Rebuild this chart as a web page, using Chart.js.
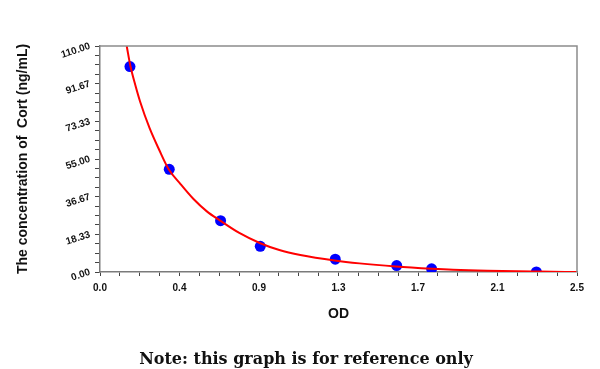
<!doctype html>
<html lang="en">
  <head>
    <meta charset="utf-8">
    <title>Cort standard curve</title>
    <style>
      * {
        margin: 0;
        padding: 0;
      }
      body {
        background: white;
      }
      .chartBox {
        position: relative;
        width: 600px;
        height: 369px;
      }
      .note {
        position: absolute;
        left: 0;
        width: 612px;
        top: 349px;
        text-align: center;
        font-family: "DejaVu Serif", serif;
        font-weight: bold;
        font-size: 16px;
        color: #111;
      }
    </style>
  </head>
  <body>
    <div class="chartBox">
      <canvas id="myChart" width="600" height="369"></canvas>
      <div class="note">Note: this graph is for reference only</div>
    </div>
    <script src="https://cdn.jsdelivr.net/npm/chart.js"></script>
    <script>
    // standard points (OD vs concentration)
    const odValues = [0.157, 0.363, 0.632, 0.840, 1.233, 1.555, 1.738, 2.287];
    const concValues = [100, 50, 25, 12.5, 6.25, 3.125, 1.5625, 0];

    // fitted curve
    const curveOD = [0.14, 0.16, 0.185, 0.21, 0.26, 0.31, 0.36, 0.42, 0.49, 0.56, 0.63, 0.73, 0.84, 0.94, 1.05, 1.23, 1.36, 1.55, 1.74, 1.85, 2.03, 2.3, 2.5];
    const curveConc = [110, 100, 91, 83, 70, 59.5, 50, 43, 35.5, 29.5, 25, 19, 14, 10.7, 8.3, 5.6, 4.2, 2.7, 1.6, 1.1, 0.6, 0.2, 0];

    const xTickLabels = ['0.0', '0.4', '0.9', '1.3', '1.7', '2.1', '2.5'];
    const yTickLabels = ['0.00', '18.33', '36.67', '55.00', '73.33', '91.67', '110.00'];
    const xMax = 2.5;
    const yMax = 110;
    const minorPerMajor = 4;

    function tickValues(max, labels){
      const n = (labels.length - 1) * minorPerMajor;
      const vals = [];
      for (let i = 0; i <= n; i++) vals.push(max * i / n);
      return vals;
    }

    const frame = {
      id: 'frame',
      afterDraw(chart){
        const {ctx, chartArea} = chart;
        ctx.save();
        ctx.strokeStyle = '#8c8c8c';
        ctx.lineWidth = 1.5;
        ctx.beginPath();
        ctx.moveTo(chartArea.left, chartArea.top);
        ctx.lineTo(chartArea.right, chartArea.top);
        ctx.lineTo(chartArea.right, chartArea.bottom);
        ctx.stroke();
        ctx.restore();
      }
    };

    const tickFont = {family: 'Liberation Sans, Arial, sans-serif', size: 10, weight: 'bold'};

    const config = {
      type: 'scatter',
      data: {
        datasets: [{
          label: 'curve',
          data: curveOD.map((x, i) => ({x: x, y: curveConc[i]})),
          showLine: true,
          borderColor: '#ff0000',
          borderWidth: 2,
          pointRadius: 0,
          cubicInterpolationMode: 'monotone'
        }, {
          label: 'standards',
          data: odValues.map((x, i) => ({x: x, y: concValues[i]})),
          backgroundColor: '#0000ff',
          borderColor: '#0000ff',
          pointRadius: 5.5,
          pointBorderWidth: 0
        }]
      },
      options: {
        responsive: false,
        animation: false,
        layout: {
          padding: {left: 0, right: 23, top: 46, bottom: 39}
        },
        plugins: {
          legend: {display: false},
          tooltip: {enabled: false}
        },
        scales: {
          x: {
            type: 'linear',
            min: 0,
            max: xMax,
            afterBuildTicks: (scale) => {
              scale.ticks = tickValues(xMax, xTickLabels).map(v => ({value: v}));
            },
            afterFit: (scale) => { scale.height = 58; },
            ticks: {
              autoSkip: false,
              maxRotation: 0,
              padding: 6,
              color: '#111',
              font: tickFont,
              callback: (v, i) => i % minorPerMajor === 0 ? xTickLabels[i / minorPerMajor] : ''
            },
            grid: {
              drawOnChartArea: false,
              tickLength: 4,
              tickColor: '#444',
              tickWidth: 1
            },
            border: {color: '#7a7a7a', width: 1.5},
            title: {
              display: true,
              text: 'OD',
              color: '#111',
              font: {family: 'Liberation Sans, Arial, sans-serif', size: 14, weight: 'bold'},
              padding: {top: 0, bottom: 7}
            }
          },
          y: {
            type: 'linear',
            min: 0,
            max: yMax,
            afterBuildTicks: (scale) => {
              scale.ticks = tickValues(yMax, yTickLabels).map(v => ({value: v}));
            },
            afterFit: (scale) => { scale.width = 100; },
            ticks: {
              autoSkip: false,
              minRotation: 18,
              maxRotation: 18,
              padding: 5,
              color: '#111',
              font: tickFont,
              callback: (v, i) => i % minorPerMajor === 0 ? yTickLabels[i / minorPerMajor] : ''
            },
            grid: {
              drawOnChartArea: false,
              tickLength: 5,
              tickColor: '#444',
              tickWidth: 1
            },
            border: {color: '#7a7a7a', width: 1.5},
            title: {
              display: true,
              text: 'The concentration of  Cort (ng/mL)',
              color: '#111',
              font: {family: 'Liberation Sans, Arial, sans-serif', size: 14, weight: 'bold'},
              padding: {top: 15, bottom: 0}
            }
          }
        }
      },
      plugins: [frame]
    };

    new Chart(document.getElementById('myChart'), config);
    </script>
  </body>
</html>
